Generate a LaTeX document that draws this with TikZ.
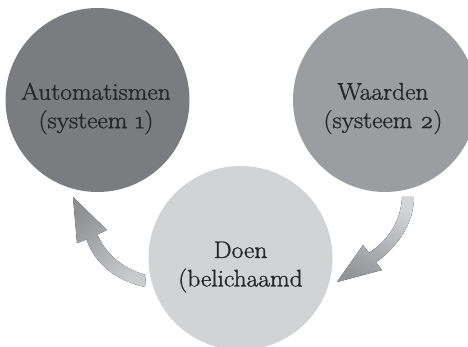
\documentclass[tikz,border=0pt]{standalone}
\usepackage{fontspec}
\newfontfamily\captionface{Latin Modern Roman}[FakeBold=1.2, FakeStretch=1.06]
\definecolor{discdark}{HTML}{7B7C80}
\definecolor{discmid}{HTML}{9C9DA1}
\definecolor{disclight}{HTML}{D2D3D5}
\definecolor{labelink}{HTML}{262626}
\definecolor{arrowdark}{HTML}{8F9094}
\definecolor{arrowlight}{HTML}{CACBCD}
\begin{document}
\begin{tikzpicture}[x=1pt,y=-1pt,
  disc/.style={circle, minimum size=184pt, inner sep=0pt, draw=none},
  label/.style={align=center, inner sep=0pt, text=labelink,
    font=\captionface\fontsize{24}{28.5}\selectfont},
  bentarrow/.style={draw=none, shading=axis}
]
\useasboundingbox (0,0) rectangle (468,347);
\begin{scope}
  \clip (0,0) rectangle (468,347);
  % the three discs
  \node[disc, fill=discdark]  (auto) at (97.5,100) {};
  \node[disc, fill=discmid]   (waar) at (385,100)  {};
  \node[disc, fill=disclight] (doen) at (240.5,258) {};
  % their captions
  \node[label] (autotxt) at (96,108.5) {Automatismen\\(systeem \oldstylenums{1})};
  \node[label] (waartxt) at (383,108.5) {Waarden\\(systeem \oldstylenums{2})};
  \node[label] (doentxt) at (240.5,267) {Doen\\(belichaamd};
  % curved arrow from Doen up to Automatismen
  \fill[bentarrow, top color=arrowdark, bottom color=arrowlight, shading angle=35]
    (145,287) .. controls (118,281) and (96,266) .. (86.5,239.5)
    -- (77,243) -- (73,197) -- (107,230) -- (97.5,234.5)
    .. controls (106,255) and (124,269) .. (146,275) -- cycle;
  % curved arrow from Waarden down to Doen
  \fill[bentarrow, top color=disclight!95!white, bottom color=discmid!95!black, shading angle=-25]
    (402,197) .. controls (401,220) and (389,240) .. (369,252.7)
    -- (363,245) -- (337,282) -- (382,270) -- (376,262.3)
    .. controls (399,246) and (414,222) .. (414,197) -- cycle;
\end{scope}
\end{tikzpicture}
\end{document}
